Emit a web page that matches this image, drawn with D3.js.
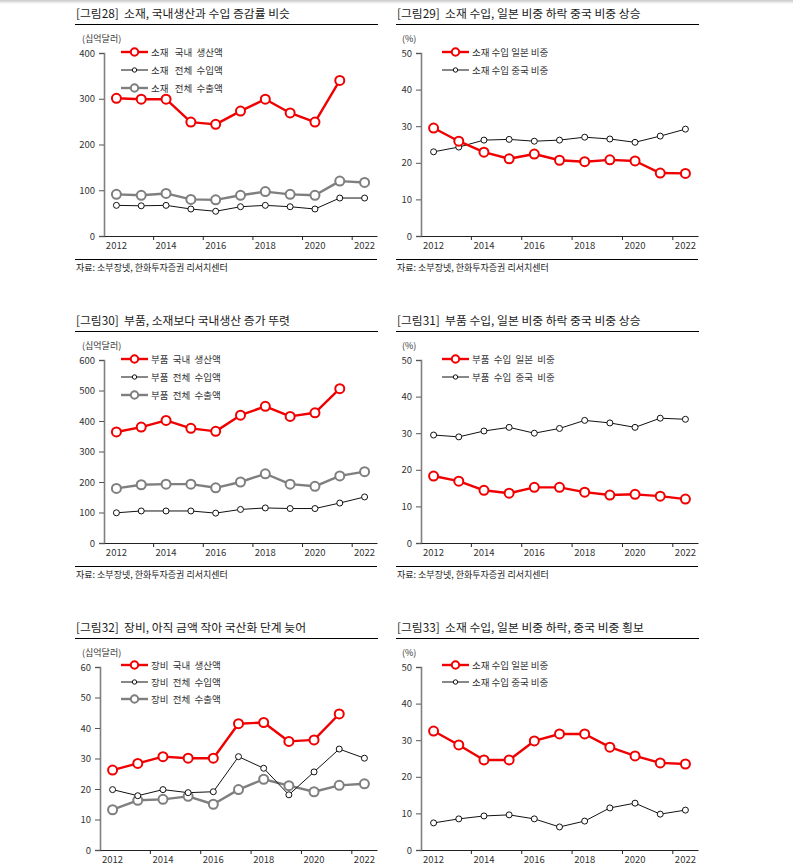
<!DOCTYPE html>
<html>
<head>
<meta charset="utf-8">
<script src="https://cdn.jsdelivr.net/npm/d3@7/dist/d3.min.js"></script>
<style>
  body{margin:0;background:#fff;}
  svg{display:block;font-family:"Noto Sans CJK KR","Noto Sans",sans-serif;}
  .title{font-size:11.8px;fill:#1a1a1a;white-space:pre;}
  .unit{font-size:9px;fill:#333;}
  .src{font-size:9px;fill:#222;}
  .leg{font-size:9.5px;fill:#333;white-space:pre;}
  .tick text{font-size:9.5px;fill:#333;font-family:"Noto Sans CJK KR","Noto Sans",sans-serif;}
</style>
</head>
<body>
<div id="container"></div>
<script>
// years and tick labels
var years = [2012,2013,2014,2015,2016,2017,2018,2019,2020,2021,2022];
var yearLabels = [2012,2014,2016,2018,2020,2022];

// [그림28] 소재
var matDom = [301,299,299,249,244,273,299,269,249,340];
var matImp = [67,66,67,59,54,64,67,64,59,83,83];
var matExp = [91,89,93,80,79,89,97,91,89,120,117];
// [그림29] 소재 수입 비중
var matJp = [29.5,25.9,22.9,21.1,22.4,20.7,20.3,20.8,20.5,17.2,17.1];
var matCn = [23.0,24.3,26.2,26.4,25.9,26.2,27.0,26.5,25.6,27.3,29.2];
// [그림30] 부품
var partDom = [364,380,402,376,366,419,448,415,427,506];
var partImp = [99,105,105,105,98,110,115,113,113,131,151];
var partExp = [179,191,193,193,181,200,227,193,186,220,234];
// [그림31] 부품 수입 비중
var partJp = [18.3,16.9,14.4,13.6,15.2,15.2,13.9,13.1,13.3,12.8,12.0];
var partCn = [29.5,29.0,30.6,31.6,30.0,31.3,33.5,32.8,31.6,34.1,33.8];
// [그림32] 장비
var eqDom = [26.2,28.4,30.6,30.1,30.1,41.4,41.8,35.6,36.1,44.6];
var eqImp = [19.8,17.8,19.8,18.8,19.1,30.6,26.8,18.1,25.6,33.1,30.1];
var eqExp = [13.2,16.3,16.6,17.6,15.0,19.8,23.2,21.1,19.1,21.2,21.7];
// [그림33] 소재 수입 비중
var mat2Jp = [32.5,28.7,24.6,24.6,29.8,31.7,31.7,28.1,25.7,23.8,23.5];
var mat2Cn = [7.4,8.5,9.3,9.6,8.5,6.3,7.9,11.5,12.8,9.8,10.9];

var RED = {stroke:"#f00000", w:2.4, r:4.5, mw:2};
var BLK = {stroke:"#111", w:1, r:3, mw:1};
var GRY = {stroke:"#7f7f7f", w:2.4, r:4.5, mw:2};

var charts = [
  {col:0,row:0,title:"[그림28]  소재, 국내생산과 수입 증감률 비슷",unit:"(십억달러)",max:400,step:100,left:104,
   series:[{name:"소재   국내  생산액",v:matDom,s:RED},{name:"소재   전체  수입액",v:matImp,s:BLK},{name:"소재   전체  수출액",v:matExp,s:GRY}],src:true},
  {col:1,row:0,title:"[그림29]  소재 수입, 일본 비중 하락 중국 비중 상승",unit:"(%)",max:50,step:10,left:421,
   series:[{name:"소재 수입 일본 비중",v:matJp,s:RED},{name:"소재 수입 중국 비중",v:matCn,s:BLK}],src:true},
  {col:0,row:1,title:"[그림30]  부품, 소재보다 국내생산 증가 뚜렷",unit:"(십억달러)",max:600,step:100,left:104,
   series:[{name:"부품  국내  생산액",v:partDom,s:RED},{name:"부품  전체  수입액",v:partImp,s:BLK},{name:"부품  전체  수출액",v:partExp,s:GRY}],src:true},
  {col:1,row:1,title:"[그림31]  부품 수입, 일본 비중 하락 중국 비중 상승",unit:"(%)",max:50,step:10,left:421,
   series:[{name:"부품  수입  일본  비중",v:partJp,s:RED},{name:"부품  수입  중국  비중",v:partCn,s:BLK}],src:true},
  {col:0,row:2,title:"[그림32]  장비, 아직 금액 작아 국산화 단계 늦어",unit:"(십억달러)",max:60,step:10,left:100,
   series:[{name:"장비  국내  생산액",v:eqDom,s:RED},{name:"장비  전체  수입액",v:eqImp,s:BLK},{name:"장비  전체  수출액",v:eqExp,s:GRY}],src:false},
  {col:1,row:2,title:"[그림33]  소재 수입, 일본 비중 하락, 중국 비중 횡보",unit:"(%)",max:50,step:10,left:421,
   series:[{name:"소재 수입 일본 비중",v:mat2Jp,s:RED},{name:"소재 수입 중국 비중",v:mat2Cn,s:BLK}],src:false}
];

var svg = d3.select("#container").append("svg").attr("width",793).attr("height",867);

var grad = svg.append("defs").append("linearGradient").attr("id","topg").attr("x1",0).attr("x2",0).attr("y1",0).attr("y2",1);
grad.append("stop").attr("offset","0%").attr("stop-color","#c8c8c8");
grad.append("stop").attr("offset","100%").attr("stop-color","#fff");
svg.append("rect").attr("x",0).attr("y",0).attr("width",793).attr("height",4).attr("fill","url(#topg)");

charts.forEach(function(c){
  var px = c.col==0 ? 75 : 396;
  var pr = px + 302;
  var oy = c.row*307;
  var g = svg.append("g");

  g.append("text").attr("class","title").attr("x",px+1).attr("y",oy+17.5).attr("xml:space","preserve").text(c.title);
  g.append("line").attr("x1",px).attr("x2",pr+1).attr("y1",oy+24.5).attr("y2",oy+24.5).attr("stroke","#000").attr("stroke-width",1.2);
  g.append("text").attr("class","unit").attr("x",px+(c.col==0?7:6)).attr("y",oy+41.5).text(c.unit);

  var top = oy+53, bot = oy+236;
  var x = d3.scaleBand().domain(years).range([c.left, pr]);
  var y = d3.scaleLinear().domain([0,c.max]).range([bot,top]);

  // y axis
  var ya = g.append("g").attr("transform","translate("+c.left+",0)")
    .call(d3.axisLeft(y).tickValues(d3.range(0,c.max+0.001,c.step)).tickSize(5).tickPadding(4));
  ya.select(".domain").attr("stroke","#808080").attr("stroke-width",1.6);
  ya.selectAll(".tick line").attr("stroke","#555");

  // x axis
  var xa = g.append("g").attr("transform","translate(0,"+bot+")")
    .call(d3.axisBottom(x).tickValues(yearLabels).tickSize(0).tickPadding(8));
  xa.select(".domain").attr("stroke","#222").attr("stroke-width",1);
  xa.selectAll(".tick text").attr("dy","0.55em");
  g.selectAll(".xt").data(yearLabels.slice(1)).enter().append("line")
    .attr("x1",function(d){return x(d);}).attr("x2",function(d){return x(d);})
    .attr("y1",bot).attr("y2",bot+4).attr("stroke","#222");

  // series: gray under, then black, red on top
  var order = c.series.length==3 ? [2,1,0] : [1,0];
  var line = d3.line().x(function(d,i){return x(years[i])+x.bandwidth()/2;}).y(function(d){return y(d);});
  order.forEach(function(k){
    var s = c.series[k];
    g.append("path").datum(s.v).attr("d",line).attr("fill","none")
      .attr("stroke",s.s.stroke).attr("stroke-width",s.s.w).attr("stroke-linejoin","round");
    g.selectAll(null).data(s.v).enter().append("circle")
      .attr("cx",function(d,i){return x(years[i])+x.bandwidth()/2;})
      .attr("cy",function(d){return y(d);})
      .attr("r",s.s.r).attr("fill","#fff").attr("stroke",s.s.stroke).attr("stroke-width",s.s.mw);
  });

  // legend
  var lx = px+46;
  var gap = c.row==2 ? 17 : 18;
  c.series.forEach(function(s,i){
    var ly = oy+52+i*gap - (c.row==2?1:0);
    g.append("line").attr("x1",lx).attr("x2",lx+27).attr("y1",ly).attr("y2",ly)
      .attr("stroke",s.s.stroke).attr("stroke-width",s.s.w);
    g.append("circle").attr("cx",lx+13.5).attr("cy",ly).attr("r",s.s.r-0.8)
      .attr("fill","#fff").attr("stroke",s.s.stroke).attr("stroke-width",s.s.mw);
    g.append("text").attr("class","leg").attr("x",lx+30).attr("y",ly+3.5).attr("xml:space","preserve").text(s.name);
  });

  if(c.src){
    g.append("line").attr("x1",px).attr("x2",pr).attr("y1",oy+259.5).attr("y2",oy+259.5).attr("stroke","#000").attr("stroke-width",1);
    g.append("text").attr("class","src").attr("x",px+1).attr("y",oy+271).text("자료: 소부장넷, 한화투자증권 리서치센터");
  }
});
</script>
</body>
</html>
